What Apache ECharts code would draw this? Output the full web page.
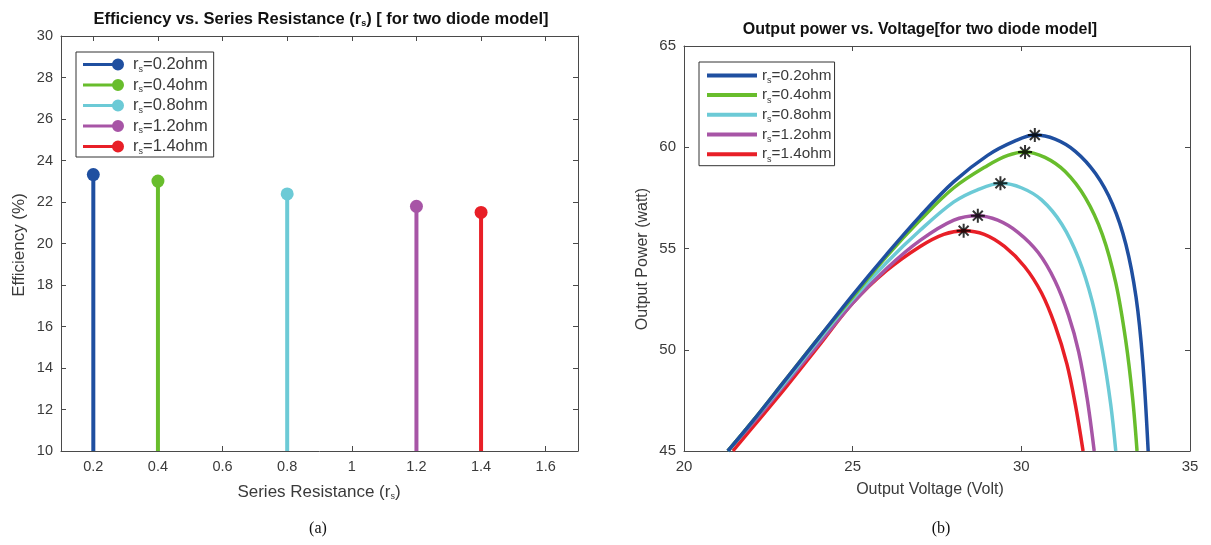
<!DOCTYPE html>
<html><head><meta charset="utf-8">
<script src="https://cdn.jsdelivr.net/npm/echarts@6/dist/echarts.min.js"></script>
<style>html,body{margin:0;padding:0;background:#fff}#c{width:1211px;height:545px}</style>
</head><body><div id="c"></div>
<script>
// ---- Data (a) ----
const rsValues = [0.2, 0.4, 0.8, 1.2, 1.4];
const efficiency = [23.32, 23.01, 22.39, 21.79, 21.50];
const rsLabels = ['0.2', '0.4', '0.8', '1.2', '1.4'];
const effBase = 10;
const xTicksA = [0.2, 0.4, 0.6, 0.8, 1.0, 1.2, 1.4, 1.6];
// ---- Data (b) ----
const vRs02 = [21.3, 22, 23, 24, 25, 26, 27, 28, 29, 29.8, 30.4, 31, 31.6, 32.2, 32.7, 33.1, 33.4, 33.6, 33.76];
const pRs02 = [45.0, 46.4, 48.5, 50.6, 52.7, 54.7, 56.6, 58.3, 59.6, 60.3, 60.6, 60.4, 59.8, 58.7, 57.2, 55.2, 52.6, 49.4, 45.0];
const vRs04 = [21.3, 22, 23, 24, 25, 26, 27, 28, 29, 29.6, 30.1, 30.7, 31.3, 31.9, 32.4, 32.8, 33.1, 33.3, 33.43];
const pRs04 = [45.0, 46.4, 48.5, 50.6, 52.6, 54.6, 56.4, 58.0, 59.1, 59.6, 59.77, 59.5, 58.8, 57.5, 55.7, 53.3, 50.4, 47.6, 45.0];
const vRs08 = [21.3, 22, 23, 24, 25, 26, 27, 28, 28.7, 29.4, 30, 30.6, 31.2, 31.7, 32.1, 32.4, 32.65, 32.8];
const pRs08 = [45.0, 46.4, 48.4, 50.5, 52.5, 54.3, 55.9, 57.3, 57.9, 58.22, 58.0, 57.4, 56.2, 54.5, 52.4, 50.0, 47.3, 45.0];
const vRs12 = [21.3, 22, 23, 24, 25, 26, 27, 28, 28.7, 29.3, 29.9, 30.5, 31.0, 31.4, 31.7, 31.95, 32.16];
const pRs12 = [45.0, 46.3, 48.3, 50.3, 52.3, 54.0, 55.4, 56.4, 56.62, 56.4, 55.8, 54.8, 53.4, 51.7, 49.9, 47.6, 45.0];
const vRs14 = [21.45, 22, 23, 24, 25, 26, 27, 27.7, 28.3, 28.9, 29.5, 30.1, 30.6, 31.0, 31.35, 31.6, 31.83];
const pRs14 = [45.0, 46.1, 48.1, 50.2, 52.3, 53.9, 55.1, 55.7, 55.88, 55.7, 55.1, 54.1, 52.8, 51.2, 49.3, 47.3, 45.0];
const peakV = [30.4, 30.11, 29.38, 28.71, 28.29];
const peakP = [60.6, 59.77, 58.22, 56.62, 55.88];

const colors = ['#1f4fa0', '#68bd2c', '#6ccad6', '#a755a6', '#e81f27'];
const curvesV = [vRs02, vRs04, vRs08, vRs12, vRs14];
const curvesP = [pRs02, pRs04, pRs08, pRs12, pRs14];

const FONT = '"Liberation Sans", Arial, sans-serif';
const AX = '#4a4a4a';
const TXT = '#3a3a3a';

function zip(a, b) { return a.map((v, i) => [v, b[i]]); }

const chart = echarts.init(document.getElementById('c'), null, { renderer: 'canvas' });

function makeRich(fs) {
  return {
    p: { width: 4 },
    r: { fontFamily: FONT, fontSize: fs, color: TXT },
    s: { fontFamily: FONT, fontSize: 9, color: TXT, padding: [10, 0, 0, 0] }
  };
}
function legFmtA(name) { return '{p|}{r|r}{s|s}{r|=' + name.slice(1) + 'ohm}'; }
function legFmtB(name) { return '{r|r}{s|s}{r|=' + name.slice(1) + 'ohm}'; }

const stemIcon = 'path://M0 4.6 L35 4.6 L35 7.4 L0 7.4 Z M41 6 A6 6 0 1 1 29 6 A6 6 0 1 1 41 6 Z';

const series = [];
rsValues.forEach((x, i) => {
  series.push({
    name: 'a' + rsLabels[i], type: 'line', xAxisIndex: 0, yAxisIndex: 0,
    data: [{ value: [x, effBase], symbol: 'none' }, { value: [x, efficiency[i]], symbol: 'circle', symbolSize: 13 }],
    lineStyle: { color: colors[i], width: 4 }, itemStyle: { color: colors[i] },
    showSymbol: true, animation: false, silent: true
  });
});
curvesV.forEach((vs, i) => {
  series.push({
    name: 'b' + rsLabels[i], type: 'line', xAxisIndex: 2, yAxisIndex: 2,
    data: zip(vs, curvesP[i]), smooth: 0.35, symbol: 'none',
    lineStyle: { color: colors[i], width: 3.5 }, itemStyle: { color: colors[i] },
    animation: false, silent: true, z: 2 + (4 - i)
  });
});
series.push({
  name: 'peaks', type: 'scatter', xAxisIndex: 2, yAxisIndex: 2,
  data: zip(peakV, peakP),
  symbol: 'path://M0 -10 L0 10 M-10 0 L10 0 M-7.07 -7.07 L7.07 7.07 M-7.07 7.07 L7.07 -7.07',
  symbolSize: 14,
  itemStyle: { color: '#000', borderColor: '#000', borderWidth: 2 },
  animation: false, silent: true, z: 10
});

function axisCommon(extra) {
  return Object.assign({
    type: 'value',
    axisLine: { show: true, onZero: false, lineStyle: { color: AX, width: 1 } },
    axisTick: { show: true, inside: true, length: 5, lineStyle: { color: AX } },
    axisLabel: { color: TXT, fontFamily: FONT, fontSize: 14 },
    splitLine: { show: false }
  }, extra);
}

const option = {
  backgroundColor: '#fff',
  animation: false,
  grid: [
    { left: 61, right: 1211 - 578, top: 36, bottom: 545 - 451 },
    { left: 684, right: 1211 - 1190, top: 46, bottom: 545 - 451 }
  ],
  xAxis: [
    axisCommon({ gridIndex: 0, position: 'bottom', min: 0.1, max: 1.7,
      axisTick: { show: true, inside: true, length: 5, lineStyle: { color: AX }, customValues: xTicksA },
      axisLabel: { color: TXT, fontFamily: FONT, fontSize: 14.5, margin: 8, customValues: xTicksA } }),
    axisCommon({ gridIndex: 0, position: 'top', min: 0.1, max: 1.7,
      axisTick: { show: true, inside: true, length: 5, lineStyle: { color: AX }, customValues: xTicksA },
      axisLabel: { show: false } }),
    axisCommon({ gridIndex: 1, position: 'bottom', min: 20, max: 35, interval: 5,
      axisLabel: { color: TXT, fontFamily: FONT, fontSize: 15, margin: 8 } }),
    axisCommon({ gridIndex: 1, position: 'top', min: 20, max: 35, interval: 5, axisLabel: { show: false } })
  ],
  yAxis: [
    axisCommon({ gridIndex: 0, position: 'left', min: 10, max: 30, interval: 2,
      axisLabel: { color: TXT, fontFamily: FONT, fontSize: 14.5, margin: 8 } }),
    axisCommon({ gridIndex: 0, position: 'right', min: 10, max: 30, interval: 2, axisLabel: { show: false } }),
    axisCommon({ gridIndex: 1, position: 'left', min: 45, max: 65, interval: 5,
      axisLabel: { color: TXT, fontFamily: FONT, fontSize: 15, margin: 8 } }),
    axisCommon({ gridIndex: 1, position: 'right', min: 45, max: 65, interval: 5, axisLabel: { show: false } })
  ],
  legend: [
    {
      data: rsLabels.map(l => ({ name: 'a' + l, icon: stemIcon })),
      orient: 'vertical', left: 76, top: 52, itemWidth: 41, itemHeight: 12, itemGap: 2.5,
      padding: [4, 6, 1, 7], borderColor: '#333', borderWidth: 1, backgroundColor: '#fff',
      formatter: legFmtA, textStyle: { rich: makeRich(16.5), lineHeight: 17 }, selectedMode: false
    },
    {
      data: rsLabels.map(l => ({ name: 'b' + l, icon: 'rect' })),
      orient: 'vertical', left: 699, top: 62, itemWidth: 50, itemHeight: 4, itemGap: 1.8,
      padding: [5, 3, 2, 8], borderColor: '#333', borderWidth: 1, backgroundColor: '#fff',
      formatter: legFmtB, textStyle: { rich: makeRich(15.3), lineHeight: 16.8 }, selectedMode: false
    }
  ],
  series: series,
  graphic: [
    { type: 'text', x: 321, y: 19, style: { text: '{t|Efficiency vs. Series Resistance (r}{ts|s}{t|) [ for two diode model]}', align: 'center', verticalAlign: 'middle',
      rich: { t: { fontFamily: FONT, fontSize: 16.5, fontWeight: 'bold', fill: '#111' }, ts: { fontFamily: FONT, fontSize: 9, fontWeight: 'bold', fill: '#111', padding: [9, 0, 0, 0] } } } },
    { type: 'text', x: 920, y: 30, style: { text: 'Output power vs. Voltage[for two diode model]', align: 'center', verticalAlign: 'middle',
      font: 'bold 16px ' + FONT, fill: '#111' } },
    { type: 'text', x: 19, y: 245, rotation: Math.PI / 2, style: { text: 'Efficiency (%)', align: 'center', verticalAlign: 'middle',
      font: '17px ' + FONT, fill: TXT } },
    { type: 'text', x: 319, y: 492, style: { text: '{t|Series Resistance (r}{ts|s}{t|)}', align: 'center', verticalAlign: 'middle',
      rich: { t: { fontFamily: FONT, fontSize: 17, fill: TXT }, ts: { fontFamily: FONT, fontSize: 9, fill: TXT, padding: [10, 0, 0, 0] } } } },
    { type: 'text', x: 643, y: 259, rotation: Math.PI / 2, style: { text: 'Output Power (watt)', align: 'center', verticalAlign: 'middle',
      font: '16px ' + FONT, fill: TXT } },
    { type: 'text', x: 930, y: 490, style: { text: 'Output Voltage (Volt)', align: 'center', verticalAlign: 'middle',
      font: '16px ' + FONT, fill: TXT } },
    { type: 'text', x: 318, y: 529, style: { text: '(a)', align: 'center', verticalAlign: 'middle',
      font: '16px "Liberation Serif", "Times New Roman", serif', fill: '#111' } },
    { type: 'text', x: 941, y: 529, style: { text: '(b)', align: 'center', verticalAlign: 'middle',
      font: '16px "Liberation Serif", "Times New Roman", serif', fill: '#111' } }
  ]
};
chart.setOption(option);
</script>
</body></html>
